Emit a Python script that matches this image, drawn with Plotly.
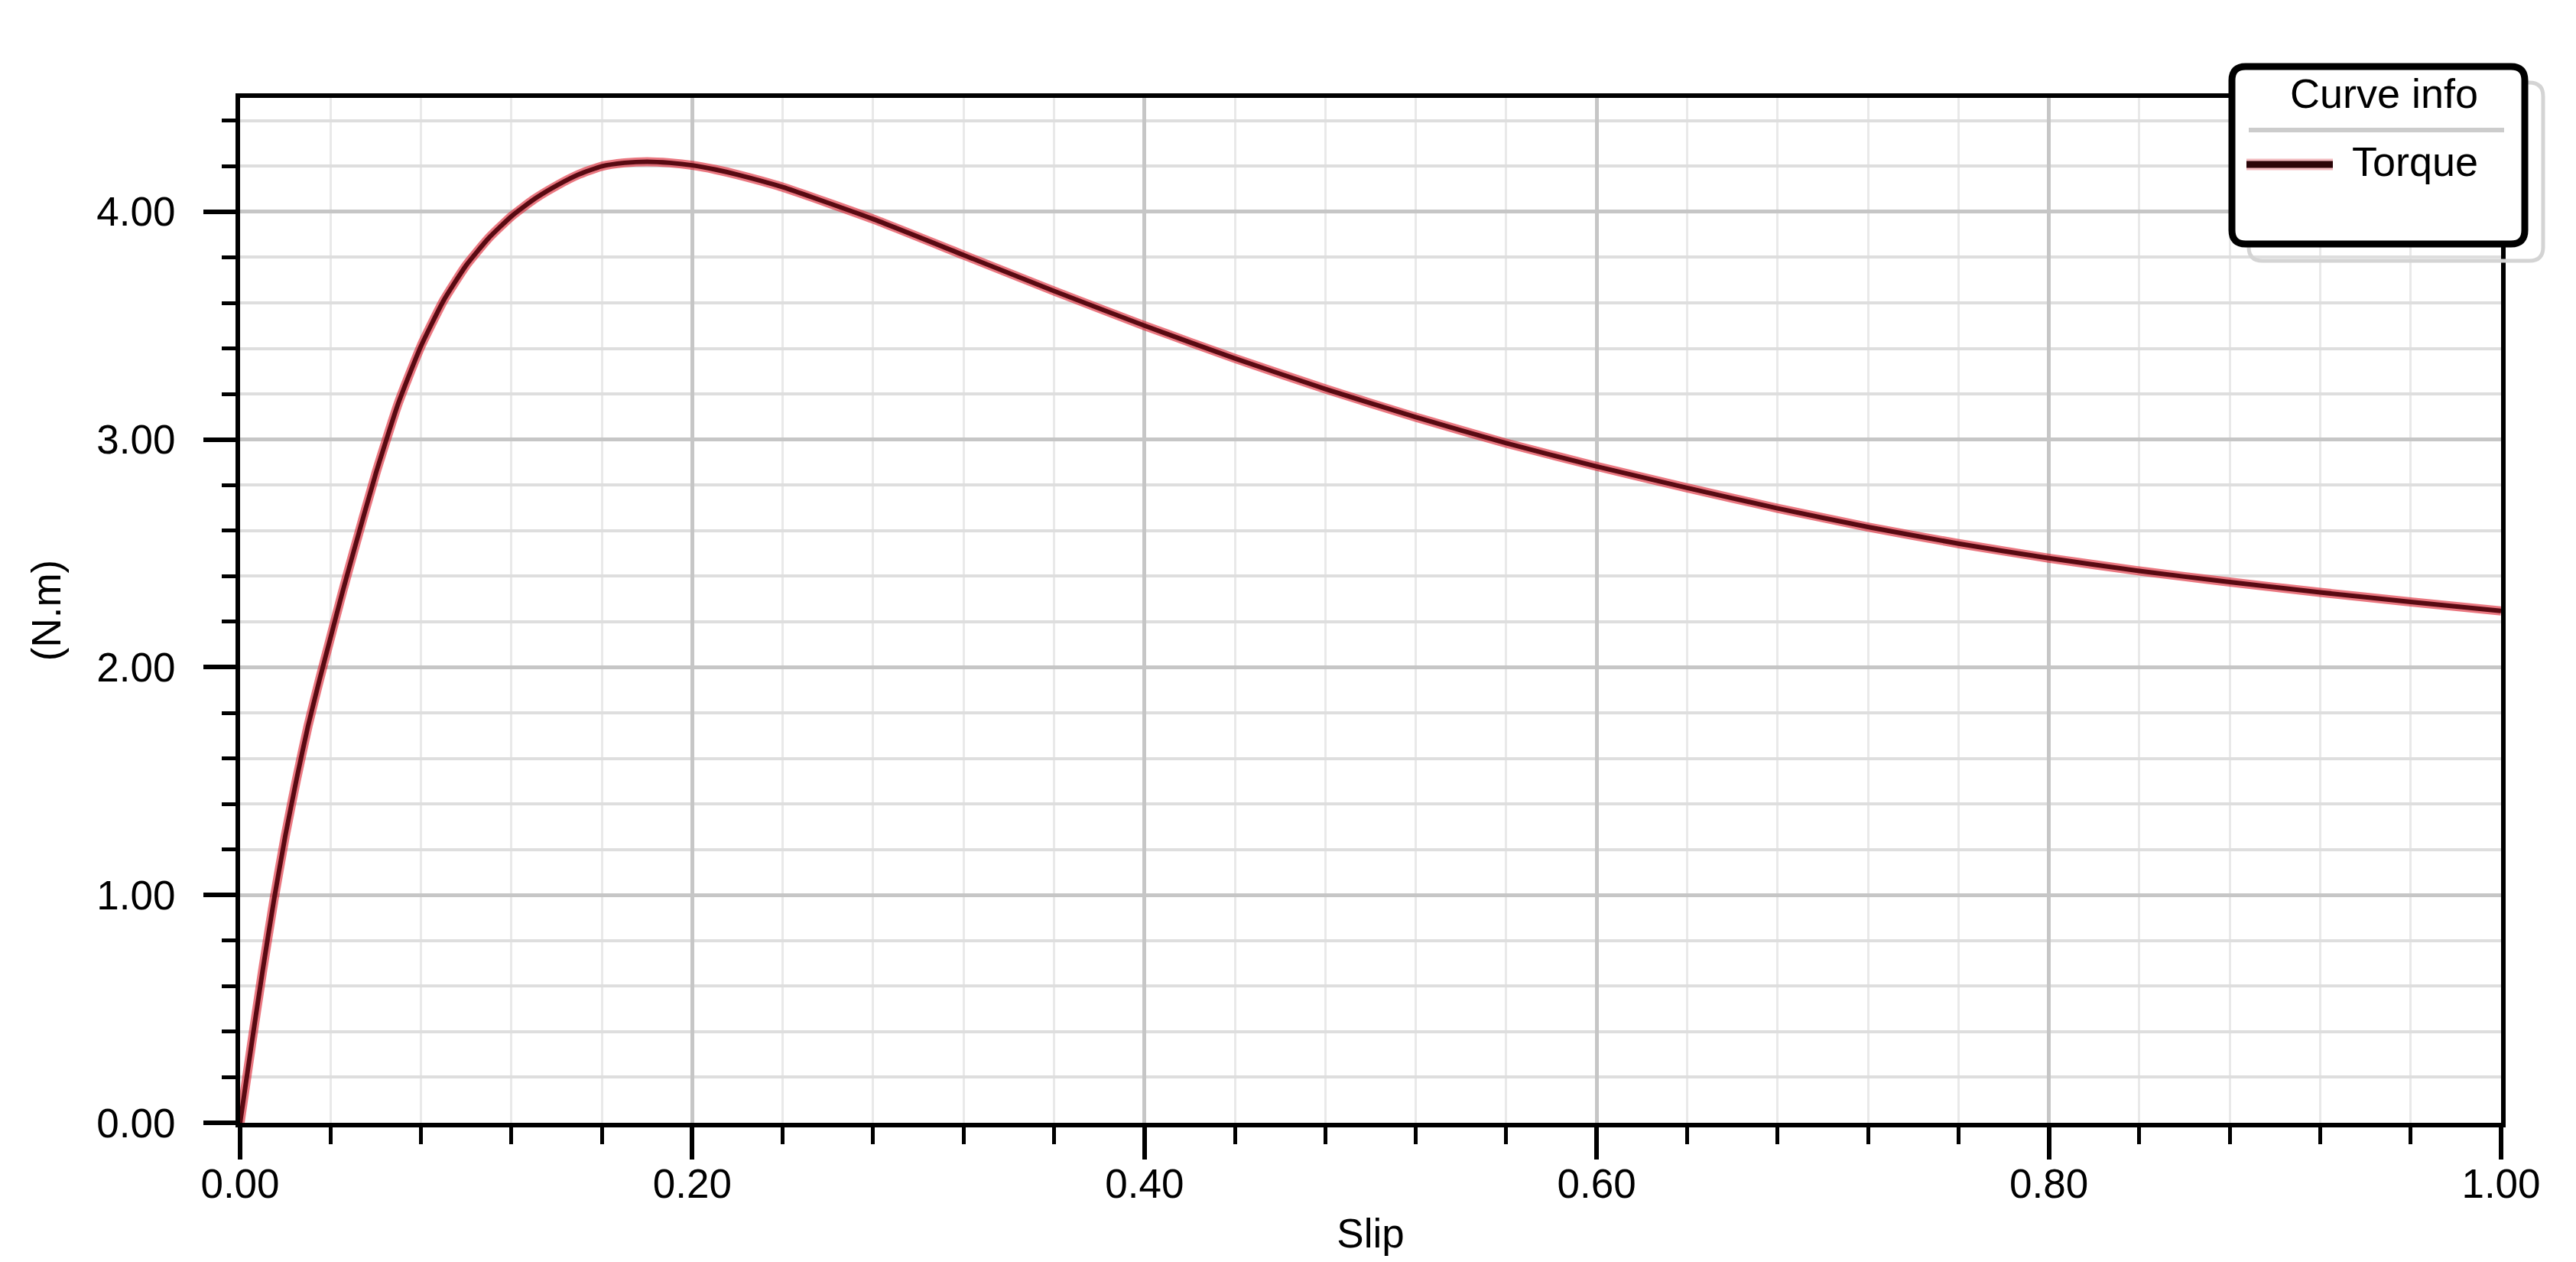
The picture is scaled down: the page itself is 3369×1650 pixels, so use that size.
import plotly.graph_objects as go

# torque-slip curve
slip = [0.0, 0.005, 0.01, 0.015, 0.02, 0.025, 0.03, 0.035, 0.04, 0.045, 0.05, 0.06,
        0.07, 0.08, 0.09, 0.10, 0.11, 0.12, 0.13, 0.14, 0.15, 0.16, 0.17, 0.18,
        0.19, 0.20, 0.21, 0.22, 0.24, 0.28, 0.32, 0.36, 0.40, 0.44, 0.48, 0.52, 0.56,
        0.60, 0.64, 0.68, 0.72, 0.76, 0.80, 0.84, 0.88, 0.92, 0.96, 1.00]
torque = [0.0, 0.34, 0.67, 0.98, 1.26, 1.51, 1.74, 1.94, 2.13, 2.32, 2.50, 2.85,
          3.16, 3.41, 3.61, 3.765, 3.885, 3.98, 4.055, 4.115, 4.165, 4.20, 4.215, 4.22,
          4.215, 4.204, 4.186, 4.163, 4.108, 3.968, 3.81, 3.652, 3.50, 3.356, 3.222, 3.098, 2.984,
          2.882, 2.788, 2.698, 2.616, 2.543, 2.479, 2.423, 2.374, 2.329, 2.287, 2.247]

x_title = "Slip"
y_title = "(N.m)"
legend_title = "Curve info"
series_name = "Torque"

W, H = 3369, 1650
ML, MR, MT, MB = 306, 106, 120, 190
FONT = "Liberation Sans, Arial, sans-serif"


def px(x):
    return (x - ML) / (W - ML - MR)


def py(y):
    return (H - MB - y) / (H - MT - MB)


def round_rect(x0, y0, x1, y1, r):
    # rounded rectangle path in paper coords, input in pixels
    a, b, c, d = px(x0), px(x1), py(y0), py(y1)
    rx = r / (W - ML - MR)
    ry = r / (H - MT - MB)
    return (f"M{a + rx},{c} L{b - rx},{c} Q{b},{c} {b},{c - ry} "
            f"L{b},{d + ry} Q{b},{d} {b - rx},{d} L{a + rx},{d} "
            f"Q{a},{d} {a},{d + ry} L{a},{c - ry} Q{a},{c} {a + rx},{c} Z")


fig = go.Figure()
fig.add_trace(go.Scatter(x=slip, y=torque, mode="lines", showlegend=False, hoverinfo="skip",
                         line=dict(color="rgba(220,30,45,0.6)", width=12, shape="spline", smoothing=0.5)))
fig.add_trace(go.Scatter(x=slip, y=torque, mode="lines", name=series_name, showlegend=False,
                         line=dict(color="#580a12", width=6, shape="spline", smoothing=0.5)))

axis_common = dict(
    showline=True, linecolor="black", linewidth=6, mirror=True,
    ticks="outside", ticklen=42, tickwidth=6, tickcolor="black",
    tickformat=".2f", showgrid=True, gridcolor="#c6c6c6", gridwidth=5,
    zeroline=False, tickfont=dict(family=FONT, size=53, color="black"),
)

fig.update_xaxes(range=[0, 1], dtick=0.2, tick0=0, ticklabelstandoff=-14,
                 minor=dict(dtick=0.04, ticks="outside", ticklen=22, tickwidth=5, tickcolor="black",
                            showgrid=True, gridcolor="#e9e9e9", gridwidth=3),
                 title=dict(text=x_title, font=dict(family=FONT, size=53, color="black"), standoff=20),
                 **axis_common)
fig.update_yaxes(range=[0, 4.5], dtick=1, tick0=0, ticklabelstandoff=26,
                 minor=dict(dtick=0.2, ticks="outside", ticklen=18, tickwidth=5, tickcolor="black",
                            showgrid=True, gridcolor="#dedede", gridwidth=4),
                 title=dict(text=y_title, font=dict(family=FONT, size=53, color="black"), standoff=32),
                 **axis_common)

# legend box drawn by hand (rounded frame with separator, like the original)
shapes = [
    dict(type="path", xref="paper", yref="paper", layer="above",
         path=round_rect(2933, 100, 3318, 333, 18),
         line=dict(color="#d4d4d4", width=5), fillcolor="rgba(0,0,0,0)"),
    dict(type="path", xref="paper", yref="paper", layer="above",
         path=round_rect(2911, 79, 3294, 311, 18),
         line=dict(color="black", width=9), fillcolor="white"),
    dict(type="line", xref="paper", yref="paper", layer="above",
         x0=px(2933), x1=px(3267), y0=py(162), y1=py(162),
         line=dict(color="#cccccc", width=6)),
    dict(type="line", xref="paper", yref="paper", layer="above",
         x0=px(2930), x1=px(3043), y0=py(207), y1=py(207),
         line=dict(color="rgba(230,120,130,0.5)", width=15)),
    dict(type="line", xref="paper", yref="paper", layer="above",
         x0=px(2930), x1=px(3043), y0=py(207), y1=py(207),
         line=dict(color="#2a0508", width=9)),
]

annotations = [
    dict(text=legend_title, xref="paper", yref="paper", x=px(3110), y=py(114),
         xanchor="center", yanchor="middle", showarrow=False,
         font=dict(family=FONT, size=54, color="black")),
    dict(text=series_name, xref="paper", yref="paper", x=px(3066), y=py(203),
         xanchor="left", yanchor="middle", showarrow=False,
         font=dict(family=FONT, size=54, color="black")),
]

fig.update_layout(
    width=W, height=H,
    margin=dict(l=ML, r=MR, t=MT, b=MB, autoexpand=False),
    paper_bgcolor="white", plot_bgcolor="white",
    showlegend=False,
    shapes=shapes, annotations=annotations,
    font=dict(family=FONT, size=53, color="black"),
)

fig.write_html("out.html")
